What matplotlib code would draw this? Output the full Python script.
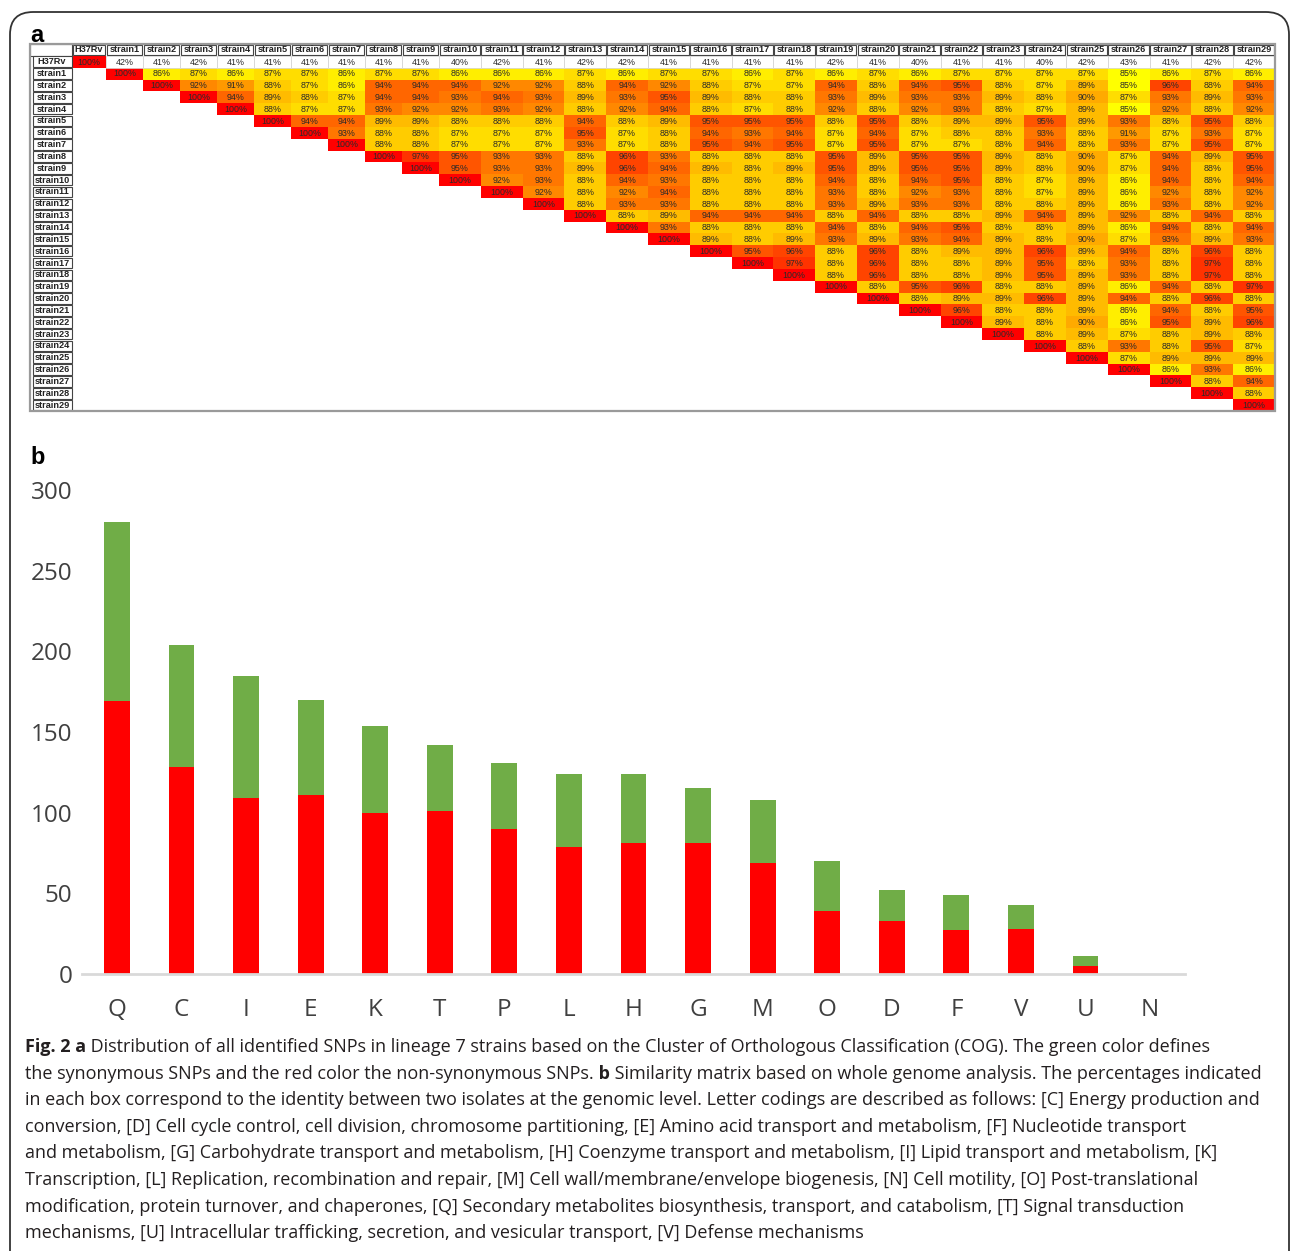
import numpy as np
import matplotlib
matplotlib.use("Agg")
import matplotlib.pyplot as plt
from matplotlib.colors import LinearSegmentedColormap, Normalize
from matplotlib.patches import Rectangle, FancyBboxPatch

# ---------------------------------------------------------------------------
# data
# ---------------------------------------------------------------------------

STRAINS = ["H37Rv"] + [f"strain{i}" for i in range(1, 30)]

# upper triangle of the similarity matrix (%), each row starts at the diagonal
SIM_ROWS = [
    [100, 42, 41, 42, 41, 41, 41, 41, 41, 41, 40, 42, 41, 42, 42, 41, 41, 41, 41, 42, 41, 40, 41, 41, 40, 42, 43, 41, 42, 42],
    [100, 86, 87, 86, 87, 87, 86, 87, 87, 86, 86, 86, 87, 86, 87, 87, 86, 87, 86, 87, 86, 87, 87, 87, 87, 85, 86, 87, 86],
    [100, 92, 91, 88, 87, 86, 94, 94, 94, 92, 92, 88, 94, 92, 88, 87, 87, 94, 88, 94, 95, 88, 87, 89, 85, 96, 88, 94],
    [100, 94, 89, 88, 87, 94, 94, 93, 94, 93, 89, 93, 95, 89, 88, 88, 93, 89, 93, 93, 89, 88, 90, 87, 93, 89, 93],
    [100, 88, 87, 87, 93, 92, 92, 93, 92, 88, 92, 94, 88, 87, 88, 92, 88, 92, 93, 88, 87, 89, 85, 92, 88, 92],
    [100, 94, 94, 89, 89, 88, 88, 88, 94, 88, 89, 95, 95, 95, 88, 95, 88, 89, 89, 95, 89, 93, 88, 95, 88],
    [100, 93, 88, 88, 87, 87, 87, 95, 87, 88, 94, 93, 94, 87, 94, 87, 88, 88, 93, 88, 91, 87, 93, 87],
    [100, 88, 88, 87, 87, 87, 93, 87, 88, 95, 94, 95, 87, 95, 87, 87, 88, 94, 88, 93, 87, 95, 87],
    [100, 97, 95, 93, 93, 88, 96, 93, 88, 88, 88, 95, 89, 95, 95, 89, 88, 90, 87, 94, 89, 95],
    [100, 95, 93, 93, 89, 96, 94, 89, 88, 89, 95, 89, 95, 95, 89, 88, 90, 87, 94, 88, 95],
    [100, 92, 93, 88, 94, 93, 88, 88, 88, 94, 88, 94, 95, 88, 87, 89, 86, 94, 88, 94],
    [100, 92, 88, 92, 94, 88, 88, 88, 93, 88, 92, 93, 88, 87, 89, 86, 92, 88, 92],
    [100, 88, 93, 93, 88, 88, 88, 93, 89, 93, 93, 88, 88, 89, 86, 93, 88, 92],
    [100, 88, 89, 94, 94, 94, 88, 94, 88, 88, 89, 94, 89, 92, 88, 94, 88],
    [100, 93, 88, 88, 88, 94, 88, 94, 95, 88, 88, 89, 86, 94, 88, 94],
    [100, 89, 88, 89, 93, 89, 93, 94, 89, 88, 90, 87, 93, 89, 93],
    [100, 95, 96, 88, 96, 88, 89, 89, 96, 89, 94, 88, 96, 88],
    [100, 97, 88, 96, 88, 88, 89, 95, 88, 93, 88, 97, 88],
    [100, 88, 96, 88, 88, 89, 95, 89, 93, 88, 97, 88],
    [100, 88, 95, 96, 88, 88, 89, 86, 94, 88, 97],
    [100, 88, 89, 89, 96, 89, 94, 88, 96, 88],
    [100, 96, 88, 88, 89, 86, 94, 88, 95],
    [100, 89, 88, 90, 86, 95, 89, 96],
    [100, 88, 89, 87, 88, 89, 88],
    [100, 88, 93, 88, 95, 87],
    [100, 87, 89, 89, 89],
    [100, 86, 93, 86],
    [100, 88, 94],
    [100, 88],
    [100],
]

COG_CATS = ["Q", "C", "I", "E", "K", "T", "P", "L", "H", "G", "M", "O", "D", "F", "V", "U", "N"]
NONSYN = [169, 128, 109, 111, 100, 101, 90, 79, 81, 81, 69, 39, 33, 27, 28, 5, 0]
SYN = [111, 76, 76, 59, 54, 41, 41, 45, 43, 34, 39, 31, 19, 22, 15, 6, 0]

# caption lines as (text, bold) segments
CAPTION_LINES = [
    [("Fig. 2 a", True), (" Distribution of all identified SNPs in lineage 7 strains based on the Cluster of Orthologous Classification (COG). The green color defines", False)],
    [("the synonymous SNPs and the red color the non-synonymous SNPs.", False), (" b", True), (" Similarity matrix based on whole genome analysis. The percentages indicated", False)],
    [("in each box correspond to the identity between two isolates at the genomic level. Letter codings are described as follows: [C] Energy production and", False)],
    [("conversion, [D] Cell cycle control, cell division, chromosome partitioning, [E] Amino acid transport and metabolism, [F] Nucleotide transport", False)],
    [("and metabolism, [G] Carbohydrate transport and metabolism, [H] Coenzyme transport and metabolism, [I] Lipid transport and metabolism, [K]", False)],
    [("Transcription, [L] Replication, recombination and repair, [M] Cell wall/membrane/envelope biogenesis, [N] Cell motility, [O] Post-translational", False)],
    [("modification, protein turnover, and chaperones, [Q] Secondary metabolites biosynthesis, transport, and catabolism, [T] Signal transduction", False)],
    [("mechanisms, [U] Intracellular trafficking, secretion, and vesicular transport, [V] Defense mechanisms", False)],
]

# ---------------------------------------------------------------------------
# layout / style
# ---------------------------------------------------------------------------

W, H = 1292, 1251
RED = "#FF0000"
GREEN = "#70AD47"
TICK_COLOR = "#404040"
CAPTION_COLOR = "#231F20"

heat_cmap = LinearSegmentedColormap.from_list("heat", ["#FFFF00", "#FF0000"])
heat_cmap.set_under("white")
heat_norm = Normalize(vmin=85, vmax=100)


def px_axes(fig, x0, y0, x1, y1):
    """axes from pixel box (top-left origin)"""
    return fig.add_axes([x0 / W, 1 - y1 / H, (x1 - x0) / W, (y1 - y0) / H])


fig = plt.figure(figsize=(W / 100, H / 100), dpi=100)

# rounded frame round the whole figure
frame = FancyBboxPatch((10 / W, 1 - 1300 / H), 1279 / W, 1288 / H,
                       boxstyle="round,pad=0,rounding_size=0.018",
                       transform=fig.transFigure, facecolor="none",
                       edgecolor="#333333", linewidth=1.3)
fig.patches.append(frame)

# ---------------------------------------------------------------------------
# panel a: similarity matrix
# ---------------------------------------------------------------------------

n = len(STRAINS)
matrix = np.full((n, n), np.nan)
for i, row in enumerate(SIM_ROWS):
    matrix[i, i:i + len(row)] = row

col_widths = [42, 34] + [37] * 9 + [41.8] * 20
xedges = np.concatenate([[0], np.cumsum(col_widths)])
row_h = 367 / (n + 1)
yedges = np.arange(n + 2) * row_h

ax = px_axes(fig, 30, 44, 30 + xedges[-1], 411)
ax.pcolormesh(xedges[1:], yedges[1:], np.ma.masked_invalid(matrix),
              cmap=heat_cmap, norm=heat_norm, shading="flat")
ax.set_xlim(0, xedges[-1])
ax.set_ylim(yedges[-1], 0)
ax.axis("off")

xc = (xedges[:-1] + xedges[1:]) / 2
yc = (yedges[:-1] + yedges[1:]) / 2

# header row and label column
ax.add_patch(Rectangle((0, 0), xedges[1], row_h, facecolor="white",
                       edgecolor="#444444", linewidth=0.8))
for j, name in enumerate(STRAINS):
    ax.add_patch(Rectangle((xedges[j + 1] + 0.6, 0.6), col_widths[j + 1] - 1.2, row_h - 1.2,
                           facecolor="white", edgecolor="#444444", linewidth=0.8))
    ax.text(xc[j + 1], yc[0], name, ha="center", va="center", fontsize=6.6,
            fontweight="bold", family="Liberation Sans", color="#222222")
for i, name in enumerate(STRAINS):
    ax.add_patch(Rectangle((2.5, yedges[i + 1] + 0.6), xedges[1] - 3, row_h - 1.2,
                           facecolor="white", edgecolor="#444444", linewidth=0.8))
    ax.text(xc[0] + 1, yc[i + 1], name, ha="center", va="center", fontsize=6.6,
            fontweight="bold", family="Liberation Sans", color="#222222")

# light grid on the reference row
for j in range(1, n):
    ax.add_patch(Rectangle((xedges[j + 1], yedges[1]), col_widths[j + 1], row_h,
                           facecolor="none", edgecolor="#D8D8D8", linewidth=0.6))

for i in range(n):
    for j in range(i, n):
        ax.text(xc[j + 1], yc[i + 1] + 0.3, f"{int(matrix[i, j])}%", ha="center",
                va="center", fontsize=6.4, family="Liberation Sans",
                color="#2a2a2a")

ax.add_patch(Rectangle((0, 0), xedges[-1], yedges[-1], facecolor="none",
                       edgecolor="#9A9A9A", linewidth=1.6, clip_on=False))

fig.text(30 / W, 1 - 35 / H, "a", fontsize=17, fontweight="bold",
         family="Liberation Sans", va="center", ha="left")

# ---------------------------------------------------------------------------
# panel b: SNPs per COG category
# ---------------------------------------------------------------------------

fig.text(30 / W, 1 - 458 / H, "b", fontsize=17, fontweight="bold",
         family="Liberation Sans", va="center", ha="left")

bx = px_axes(fig, 82, 490, 1185, 974)
x = np.arange(len(COG_CATS))
bx.bar(x, NONSYN, width=0.4, color=RED, edgecolor="none")
bx.bar(x, SYN, width=0.4, bottom=NONSYN, color=GREEN, edgecolor="none")
bx.set_xlim(-0.54, len(COG_CATS) - 0.46)
bx.set_ylim(0, 300)
bx.set_yticks(range(0, 301, 50))
bx.set_xticks(x)
bx.set_xticklabels(COG_CATS)
for side in ["top", "right", "left"]:
    bx.spines[side].set_visible(False)
bx.spines["bottom"].set_color("#D9D9D9")
bx.spines["bottom"].set_linewidth(2)
bx.tick_params(axis="y", length=0, pad=7, labelsize=17.5, labelcolor=TICK_COLOR)
bx.tick_params(axis="x", length=0, pad=17, labelsize=17.5, labelcolor=TICK_COLOR)
for lab in bx.get_xticklabels() + bx.get_yticklabels():
    lab.set_family("Open Sans")

# ---------------------------------------------------------------------------
# caption (segments chained so bold parts sit inline)
# ---------------------------------------------------------------------------

for k, segments in enumerate(CAPTION_LINES):
    y = 1 - (1056 + k * 26.6) / H
    prev = None
    for text, bold in segments:
        style = dict(fontsize=13.0, family="Open Sans", color=CAPTION_COLOR,
                     fontweight="bold" if bold else "normal",
                     va="bottom", ha="left")
        if prev is None:
            prev = fig.text(25 / W, y, text, **style)
        else:
            prev = bx.annotate(text, xy=(1, 0), xycoords=prev, **style)

fig.savefig("out.png", dpi=100)
